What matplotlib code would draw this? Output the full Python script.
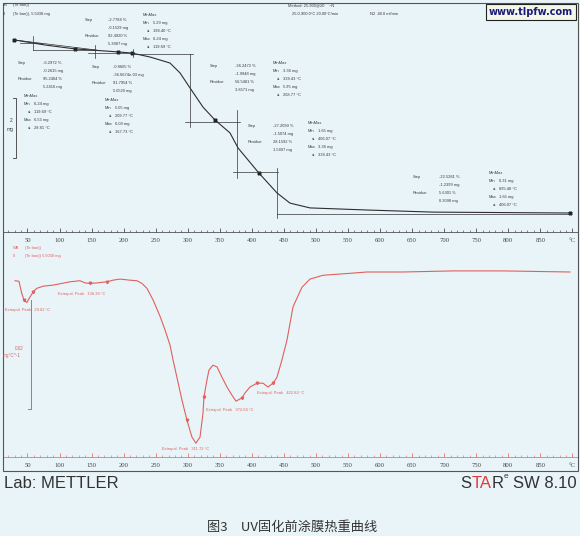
import numpy as np
import matplotlib
matplotlib.use('Agg')
import matplotlib.pyplot as plt
from matplotlib.patches import Rectangle

W, H = 580, 536
BG = '#e9f4f9'
INK = '#3a3a3a'
RED = '#e0605c'

# --- DONNEES ---
# TGA : temperature (°C) / masse (mg)
tga_temp = [28.9, 77.3, 124.1, 191.2, 213.0, 241.1, 272.3, 287.9, 303.5, 323.8,
            342.5, 365.9, 378.4, 411.1, 439.2, 459.5, 490.7, 579.6, 682.6, 896.3]
tga_mass = [6.08, 5.91, 5.78, 5.68, 5.64, 5.51, 5.31, 4.98, 4.48, 3.84,
            3.41, 2.98, 2.48, 1.64, 0.98, 0.64, 0.48, 0.41, 0.34, 0.31]
tga_marks = [0, 2, 3, 4, 10, 13, 19]

# DTG : temperature (°C) / derivee (mg/°C)
dtg_temp = [30.5, 36.7, 41.0, 44.5, 48.8, 53.9, 59.0, 64.4, 74.6, 90.2,
            103.4, 116.3, 131.9, 139.7, 147.5, 158.4, 174.0, 183.4, 194.3, 209.9,
            220.8, 228.6, 236.4, 245.8, 256.7, 264.5, 272.3, 277.0, 291.0, 298.8,
            306.6, 312.8, 319.1, 323.8, 325.3, 330.0, 333.1, 339.4, 345.6, 353.4,
            361.2, 369.0, 375.3, 384.6, 389.3, 397.1, 408.0, 417.4, 425.2, 433.0,
            439.2, 447.0, 454.8, 464.2, 478.2, 490.7, 511.0, 557.8, 579.6, 635.8,
            713.8, 791.8, 896.3]
dtg_val = [-0.0016, -0.0017, -0.0039, -0.0051, -0.0056, -0.0046, -0.0036, -0.0030, -0.0026, -0.0024,
           -0.0021, -0.0018, -0.0016, -0.0020, -0.0021, -0.0020, -0.0018, -0.0015, -0.0013, -0.0015,
           -0.0016, -0.0021, -0.0030, -0.0051, -0.0081, -0.0106, -0.0134, -0.0161, -0.0235, -0.0272,
           -0.0303, -0.0314, -0.0303, -0.0259, -0.0229, -0.0198, -0.0180, -0.0171, -0.0174, -0.0193,
           -0.0211, -0.0226, -0.0237, -0.0231, -0.0222, -0.0211, -0.0204, -0.0204, -0.0211, -0.0204,
           -0.0193, -0.0161, -0.0125, -0.0064, -0.0028, -0.0013, -0.0006, -0.0002, 0.0, 0.0,
           0.0002, 0.0002, 0.0]
dtg_marks = [3, 6, 14, 16, 29, 34, 43, 46, 49]

# lignes d'evaluation des paliers (T1, T2, m) et (T, m1, m2)
eval_h = [(38.3, 72.6, 5.98), (58.6, 158.4, 5.74), (144.4, 214.6, 5.64), (214.6, 308.2, 5.61),
          (295.7, 381.5, 3.34), (370.6, 440.8, 1.68), (439.2, 896.3, 0.28)]
eval_v = [(58.6, 5.74, 6.21), (155.3, 5.48, 5.91), (214.6, 5.51, 5.78), (303.5, 3.18, 5.61),
          (376.8, 1.48, 3.74), (439.2, 0.14, 1.81)]

tick_major = list(range(50, 901, 50))
tick_labels = [str(t) for t in range(50, 851, 50)] + ['°C']

XLIM = (11.8, 908.8)


def fx(x):
    return x / W


def fy(y):
    return 1 - y / H


def txt(x, y, s, color=INK, size=2.9, **kw):
    fig.text(fx(x), fy(y), s, color=color, fontsize=size, va='center',
             family='Liberation Sans', **kw)


fig = plt.figure(figsize=(W / 100, H / 100), dpi=100, facecolor=BG)

# cadre general
fig.patches.append(Rectangle((fx(3), fy(471)), fx(575), (471 - 3) / H, transform=fig.transFigure,
                             fill=False, lw=0.8, ec='#555555'))

# --- TGA ---
ax1 = fig.add_axes([fx(3), fy(232), fx(575), 229 / H])
ax1.set_facecolor('none')
ax1.set_xlim(*XLIM)
ax1.set_ylim(-0.323, 7.31)
ax1.plot(tga_temp, tga_mass, color='#2e2e2e', lw=0.8)
ax1.plot([tga_temp[i] for i in tga_marks], [tga_mass[i] for i in tga_marks], ls='none',
         marker='X', ms=2.2, color='#222222')
ax1.plot([tga_temp[0], 158.4], [tga_mass[0], 5.74], color='#2e2e2e', lw=0.5)
for t1, t2, m in eval_h:
    ax1.plot([t1, t2], [m, m], color='#333333', lw=0.5)
for t, m1, m2 in eval_v:
    ax1.plot([t, t], [m1, m2], color='#333333', lw=0.5)
# echelle 2 mg
ax1.plot([27, 32, 32, 27], [2.14, 2.14, 4.14, 4.14], color=INK, lw=0.6)

# --- DTG ---
ax2 = fig.add_axes([fx(3), fy(457), fx(575), 214 / H])
ax2.set_facecolor('none')
ax2.set_xlim(*XLIM)
ax2.set_ylim(-0.03394, 0.00532)
ax2.plot(dtg_temp, dtg_val, color=RED, lw=0.8)
ax2.plot([dtg_temp[i] for i in dtg_marks], [dtg_val[i] for i in dtg_marks], ls='none',
         marker='v', ms=1.8, color=RED)
# echelle 0.02 mg/°C
ax2.plot([50.8, 55.5, 55.5], [-0.0251, -0.0251, -0.0051], color=RED, lw=0.7)

for ax, tc in [(ax1, '#333333'), (ax2, RED)]:
    for side in ['top', 'right', 'left']:
        ax.spines[side].set_visible(False)
    ax.spines['bottom'].set_color(tc)
    ax.spines['bottom'].set_linewidth(0.5)
    ax.set_yticks([])
    ax.set_xticks(tick_major)
    ax.set_xticks(range(20, 901, 10), minor=True)
    ax.set_xticklabels(tick_labels, family='Liberation Serif', fontsize=4.8, color='#444444')
    ax.tick_params(axis='x', which='major', direction='in', length=3, width=0.5, color=tc, pad=4)
    ax.tick_params(axis='x', which='minor', direction='in', length=1.8, width=0.4, color=tc)

# --- TEXTES TGA ---
txt(3, 5, '0B'); txt(13, 5, '(Te ban))')
txt(3, 14, '0'); txt(13, 14, '(Te ban)), 5.5038 mg')
txt(288, 5, 'Method: 25-900@20    ~N')
txt(292, 14, '25.0-900.0°C 20.00°C/min'); txt(370, 14, 'N2  40.0 ml/min')

step_blocks = [
    (85, 108, 20, ['-2.7784 %', '-0.1529 mg', '92.4920 %', '5.3887 mg']),
    (18, 43, 63, ['-6.2972 %', '-0.2615 mg', '95.2404 %', '5.2416 mg']),
    (92, 113, 67, ['-0.8665 %', '-36.6674e-03 mg', '91.7954 %', '5.0520 mg']),
    (210, 235, 66, ['-36.2472 %', '-1.9948 mg', '56.5481 %', '3.8571 mg']),
    (248, 273, 126, ['-27.2099 %', '-1.5074 mg', '28.1592 %', '1.5497 mg']),
    (413, 439, 177, ['-22.5281 %', '-1.2399 mg', '5.6301 %', '0.3098 mg']),
]
for xl, xv, y, vals in step_blocks:
    txt(xl, y, 'Step')
    txt(xl, y + 16, 'Residue')
    for k, v in enumerate(vals):
        txt(xv, y + 8 * k, v)

minmax_blocks = [
    (143, 15, ['5.29 mg', '198.40 °C', '6.24 mg', '119.69 °C']),
    (24, 96, ['6.24 mg', '119.69 °C', '6.53 mg', '28.81 °C']),
    (105, 100, ['5.05 mg', '209.77 °C', '6.09 mg', '167.73 °C']),
    (273, 63, ['3.36 mg', '338.43 °C', '5.95 mg', '208.77 °C']),
    (308, 123, ['1.65 mg', '406.07 °C', '3.36 mg', '338.43 °C']),
    (489, 173, ['0.31 mg', '895.48 °C', '1.65 mg', '406.07 °C']),
]
for x, y, vals in minmax_blocks:
    txt(x, y, 'MinMax')
    txt(x, y + 8, 'Min'); txt(x + 10, y + 8, vals[0])
    txt(x + 4, y + 16, 'at'); txt(x + 10, y + 16, vals[1])
    txt(x, y + 24, 'Max'); txt(x + 10, y + 24, vals[2])
    txt(x + 4, y + 32, 'at'); txt(x + 10, y + 32, vals[3])

txt(10, 120, '2', size=3.5)
txt(7, 129, 'mg', size=3.5)

# --- TEXTES DTG ---
txt(13, 248, 'WB', RED); txt(25, 248, '(Te ban))', RED)
txt(13, 256, '0', RED); txt(25, 256, '(Te ban)) 5.5030 mg', RED)
txt(58, 294, 'Extrapol. Peak   136.39 °C', RED)
txt(5, 310, 'Extrapol. Peak   29.62 °C', RED)
txt(206, 410, 'Extrapol. Peak   372.64 °C', RED)
txt(257, 393, 'Extrapol. Peak   422.83 °C', RED)
txt(162, 449, 'Extrapol. Peak   311.72 °C', RED)
txt(15, 348, '0.02', RED, size=3.3)
txt(3, 356, 'mg°C^-1', RED, size=3.3)

# filigrane
fig.text(fx(531), fy(12), 'www.tlpfw.com', ha='center', va='center', fontsize=7,
         fontweight='bold', color='#1a1a78', family='DejaVu Sans',
         bbox=dict(boxstyle='square,pad=0.3', fc='#f3f7ea', ec='#222222', lw=0.8))

# --- PIED DE PAGE ---
fig.text(fx(4), fy(483), 'Lab: METTLER', fontsize=12, color='#333333', va='center',
         family='Liberation Sans')
fig.canvas.draw()
r = fig.canvas.get_renderer()
xr = 577
for s, c, fs, dy, gap in [('SW 8.10', '#333333', 12, 0, 5), ('e', '#333333', 6, 6, 0),
                          ('R', '#333333', 12, 0, 0), ('TA', '#e03a3a', 12, 0, 0),
                          ('S', '#333333', 12, 0, 0)]:
    t = fig.text(fx(xr), fy(483 - dy), s, fontsize=fs, color=c, ha='right', va='center',
                 family='Liberation Sans')
    bb = t.get_window_extent(r)
    xr = bb.x0 - gap

fig.text(fx(292), fy(527), '图3\u3000UV固化前涂膜热重曲线', ha='center', va='center', fontsize=9.5,
         color='#333333', family=['Noto Sans CJK SC', 'DejaVu Sans'])

fig.savefig('out.png', dpi=100, facecolor=BG)
